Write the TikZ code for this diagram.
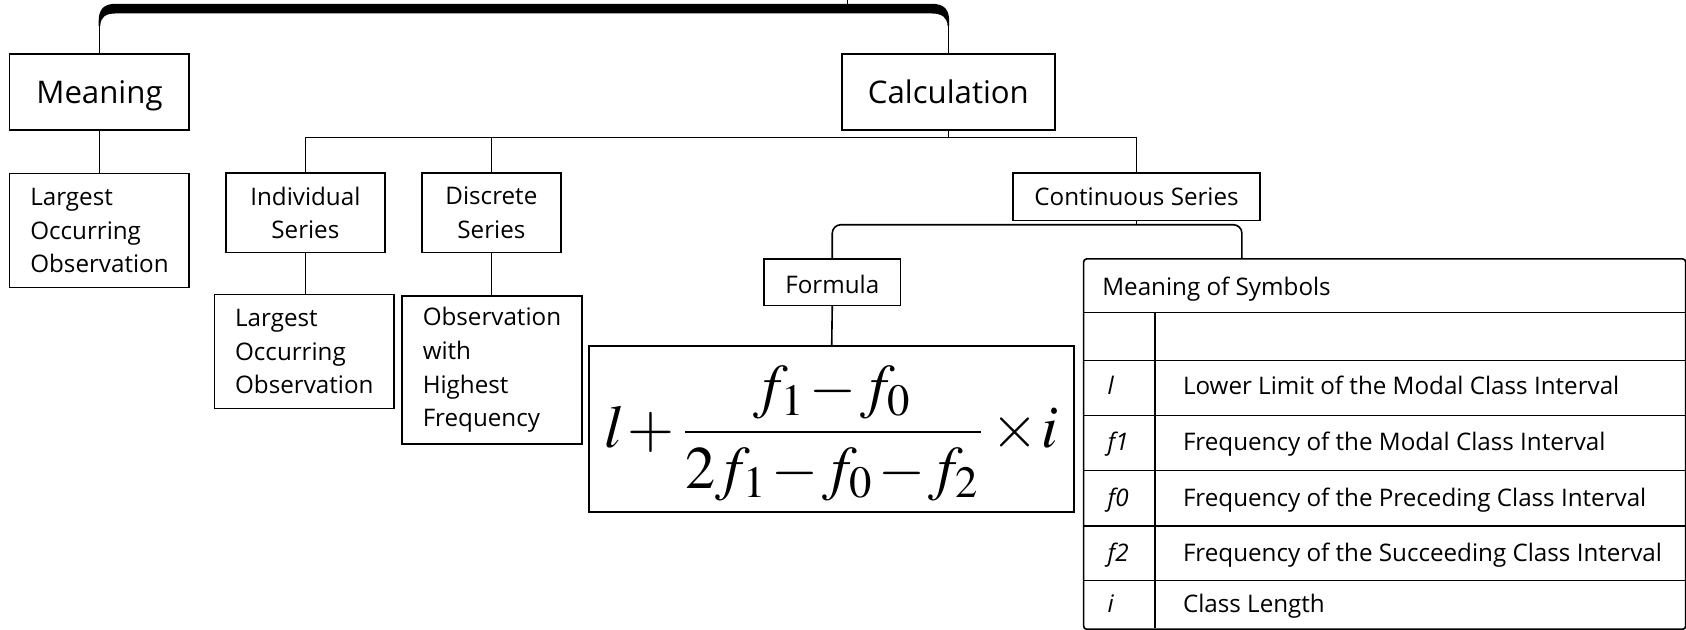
\documentclass[tikz,border=0pt]{standalone}
\usepackage{mathptmx}
\usepackage{graphicx}
\usepackage[no-math]{fontspec}
\setmainfont{Open Sans}
\usetikzlibrary{calc}
\begin{document}
\begin{tikzpicture}[x=1pt,y=-1pt,
  conn/.style={line width=1.5pt},
  box/.style={draw, line width=1.5pt, inner sep=0pt, font=\fontsize{22.5}{31.3}\selectfont, align=center},
  lbox/.style={box, align=left},
  bigbox/.style={box, font=\fontsize{29}{38}\selectfont, text height=25pt, text depth=3pt},
  cell/.style={inner sep=0pt, anchor=base west, font=\fontsize{22.5}{31}\selectfont},
  sym/.style={cell, font=\fontsize{22.5}{31}\selectfont\itshape}]
\useasboundingbox (0,0) rectangle (1568,585);

% nodes
\node[bigbox, minimum width=167pt, minimum height=71pt] (meaning) at (92.5,85.5) {Meaning};
\node[bigbox, minimum width=198pt, minimum height=71pt] (calc) at (882,85.5) {Calculation};
\node[lbox, minimum width=167pt, minimum height=106pt] (lo1) at (92.5,214.5) {Largest\\Occurring\\Observation};
\node[box, minimum width=148pt, minimum height=74pt] (ind) at (284,198) {Individual\\Series};
\node[box, minimum width=129pt, minimum height=74pt] (dis) at (457,198) {Discrete\\Series};
\node[box, minimum width=230pt, minimum height=44pt] (cont) at (1057,183) {Continuous Series};
\node[lbox, minimum width=167pt, minimum height=106pt] (lo2) at (283,327) {Largest\\Occurring\\Observation};
\node[lbox, minimum width=167pt, minimum height=138pt] (obs) at (457.5,344) {Observation\\with\\Highest\\Frequency};
\node[box, minimum width=127pt, minimum height=43pt, text height=21pt, text depth=0pt] (formula) at (774,262.5) {Formula};
\node[box, minimum width=451pt, minimum height=154pt] (fbox) at (773.5,399) {};
\node[inner sep=0pt] (fml) at (773.5,403)
  {\resizebox{422pt}{!}{$\displaystyle l\mkern1mu{+}\mkern1mu\frac{f_1\mkern1mu{-}\mkern1mu f_0}{2f_1\mkern1mu{-}\mkern1mu f_0\mkern1mu{-}\mkern1mu f_2}\mkern1mu{\times}\mkern1mu i$}};

% table
\node[draw, line width=1.5pt, rounded corners=3pt, minimum width=560pt, minimum height=344.5pt,
  anchor=north west, inner sep=0pt] (tbl) at (1007,240) {};
\foreach \yy in {290.8,335.3,386.4,437.5,488.9,540}
  \draw[conn] (1007,\yy) -- (1567,\yy);
\draw[conn] (1074,290.8) -- (1074,584.5);
\node[cell] (hdr) at (1025,274.5) {Meaning of Symbols};
\node[sym] (s1) at (1030,367) {l};
\node[cell] (d1) at (1100,367) {Lower Limit of the Modal Class Interval};
\node[sym] (s2) at (1030,419) {f1};
\node[cell] (d2) at (1100,419) {Frequency of the Modal Class Interval};
\node[sym] (s3) at (1030,471) {f0};
\node[cell] (d3) at (1100,471) {Frequency of the Preceding Class Interval};
\node[sym] (s4) at (1030,522) {f2};
\node[cell] (d4) at (1100,522) {Frequency of the Succeeding Class Interval};
\node[sym] (s5) at (1030,570) {i};
\node[cell] (d5) at (1100,570) {Class Length};

% top bar
\coordinate (root) at (788,0);
\draw[conn] (root) -- (788,6);
\coordinate (bl) at (92.5,22);
\coordinate (br) at (882,22);
\draw[conn] (meaning.north) -- (bl);
\draw[conn] (calc.north) -- (br);
\fill (91.75,24) -- (91.75,20) .. controls (91.75,9) and (96,3.5) .. (108,3.5) -- (866,3.5)
  .. controls (878.5,3.5) and (882.75,9) .. (882.75,20) -- (882.75,24) -- (881.25,24)
  .. controls (881,17) and (877,12.5) .. (866,12.5) -- (108,12.5)
  .. controls (98,12.5) and (93.5,16) .. (93.25,24) -- cycle;

% connectors
\draw[conn] (meaning.south) -- (lo1.north);
\coordinate (k) at (882,128);
\draw[conn] (calc.south) -- (k);
\draw[conn] (ind.north) -- (ind.north |- k) -- (k -| cont.north) -- (cont.north);
\draw[conn] (dis.north) -- (dis.north |- k);
\draw[conn] (ind.south) -- (ind.south |- lo2.north);
\draw[conn] (dis.south) -- (dis.south |- obs.north);
\coordinate (cj) at (1057,209);
\draw[conn] (cont.south) -- (cj);
\coordinate (tc) at (1155,240);
\draw[conn, rounded corners=8pt] (formula.north) |- (cj) -| (tc);
\draw[conn] (formula.south) -- (fbox.north);
\end{tikzpicture}
\end{document}
